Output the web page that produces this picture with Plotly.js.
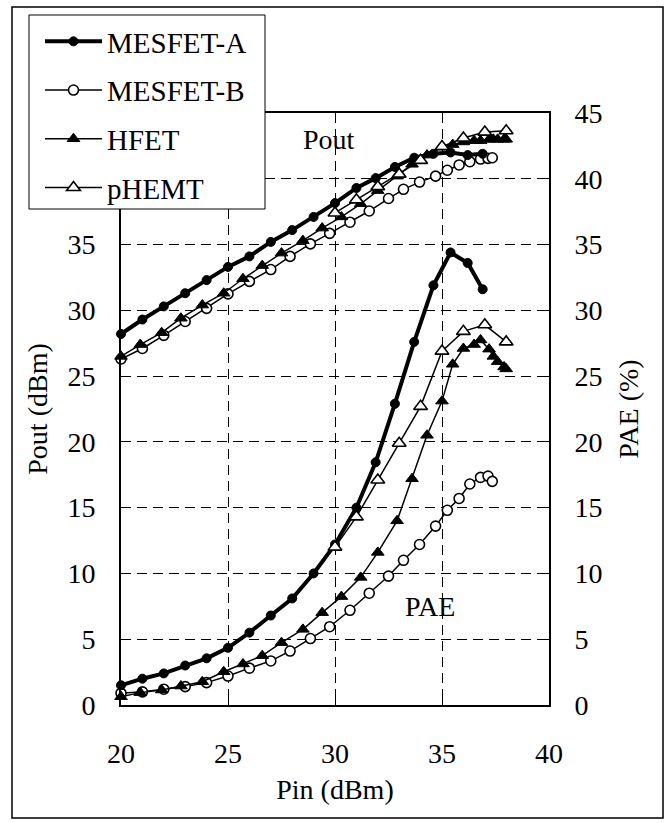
<!DOCTYPE html>
<html>
<head>
<meta charset="utf-8">
<script src="https://cdn.plot.ly/plotly-3.0.1.min.js"></script>
<style>
  html, body { margin: 0; padding: 0; background: #fff; }
  #chart { width: 668px; height: 823px; }
</style>
</head>
<body>
<div id="chart"></div>
<script>
// Input power sweep (dBm) and measured Pout (dBm) / PAE (%) per device
const mesfetA_pin  = [20, 21, 22, 23, 24, 25, 26, 27, 28, 29, 30, 31, 31.9, 32.8, 33.7, 34.6, 35.4, 36.2, 36.9];
const mesfetA_pout = [28.2, 29.3, 30.3, 31.3, 32.3, 33.3, 34.1, 35.2, 36.1, 37.1, 38.15, 39.3, 40.05, 40.9, 41.6, 41.9, 42.0, 41.8, 41.9];
const mesfetA_pae  = [1.5, 2.0, 2.4, 3.0, 3.55, 4.35, 5.5, 6.8, 8.1, 10.0, 12.2, 15.0, 18.45, 22.9, 27.6, 31.9, 34.4, 33.6, 31.6];

const mesfetB_pin  = [20, 21, 22, 23, 24, 25, 26, 27, 27.9, 28.85, 29.75, 30.7, 31.6, 32.5, 33.2, 33.95, 34.7, 35.25, 35.8, 36.3, 36.8, 37.15, 37.35];
const mesfetB_pout = [26.3, 27.1, 28.1, 29.15, 30.15, 31.25, 32.2, 33.1, 34.1, 35.05, 35.85, 36.7, 37.55, 38.5, 39.2, 39.75, 40.2, 40.65, 41.05, 41.3, 41.5, 41.55, 41.6];
const mesfetB_pae  = [0.9, 1.0, 1.2, 1.4, 1.7, 2.2, 2.8, 3.35, 4.1, 5.05, 5.95, 7.2, 8.5, 9.8, 11.0, 12.2, 13.6, 14.8, 15.7, 16.8, 17.3, 17.4, 17.0];

const hfet_pin  = [20, 20.9, 21.9, 22.8, 23.8, 24.8, 25.7, 26.6, 27.5, 28.5, 29.4, 30.3, 31.2, 32.0, 32.9, 33.6, 34.3, 35.0, 35.5, 36.0, 36.5, 36.8, 37.2, 37.4, 37.6, 37.9, 38.0];
const hfet_pout = [26.5, 27.4, 28.3, 29.4, 30.4, 31.3, 32.4, 33.4, 34.35, 35.3, 36.25, 37.1, 38.1, 39.1, 40.2, 41.1, 41.8, 42.4, 42.6, 42.8, 42.9, 42.9, 43.0, 43.0, 43.0, 43.0, 43.0];
const hfet_pae  = [0.63, 0.94, 1.14, 1.44, 1.77, 2.53, 3.12, 3.75, 4.74, 5.75, 7.02, 8.24, 9.7, 11.6, 14.0, 17.2, 20.5, 23.1, 25.9, 27.1, 27.4, 27.75, 27.05, 26.5, 26.1, 25.7, 25.55];

const phemt_pin  = [30, 31, 32, 33, 34, 35, 36, 37, 38];
const phemt_pout = [37.4, 38.4, 39.4, 40.35, 41.4, 42.45, 43.1, 43.55, 43.65];
const phemt_pae  = [12.0, 14.3, 17.1, 19.9, 22.7, 26.9, 28.4, 28.9, 27.6];

const xTicks = [20, 25, 30, 35, 40];
const yTicks = [0, 5, 10, 15, 20, 25, 30, 35, 40, 45];

const FONT = '"Liberation Serif", "Times New Roman", Tinos, serif';

// Visual style per device
const styles = {
  'MESFET-A': { line: { color: '#000', width: 4 },   marker: { symbol: 'circle', size: 9, color: '#000', line: { color: '#000', width: 1 } }, rank: 1 },
  'MESFET-B': { line: { color: '#000', width: 1.5 }, marker: { symbol: 'circle', size: 10, color: '#fff', line: { color: '#000', width: 1.6 } }, rank: 2 },
  'HFET':     { line: { color: '#000', width: 1.5 }, marker: { symbol: 'triangle-up', size: 11, color: '#000', line: { color: '#000', width: 1 } }, rank: 3 },
  'pHEMT':    { line: { color: '#000', width: 1.5 }, marker: { symbol: 'triangle-up', size: 12, color: '#fff', line: { color: '#000', width: 1.6 } }, rank: 4 }
};

const devices = [
  { name: 'MESFET-B', pin: mesfetB_pin, pout: mesfetB_pout, pae: mesfetB_pae },
  { name: 'HFET',     pin: hfet_pin,    pout: hfet_pout,    pae: hfet_pae },
  { name: 'MESFET-A', pin: mesfetA_pin, pout: mesfetA_pout, pae: mesfetA_pae },
  { name: 'pHEMT',    pin: phemt_pin,   pout: phemt_pout,   pae: phemt_pae }
];

const traces = [];
devices.forEach(d => {
  const s = styles[d.name];
  traces.push({
    x: d.pin, y: d.pout, name: d.name, type: 'scatter', mode: 'lines+markers',
    line: s.line, marker: s.marker, legendgroup: d.name, legendrank: s.rank,
    cliponaxis: false, xaxis: 'x', yaxis: 'y'
  });
  traces.push({
    x: d.pin, y: d.pae, name: d.name, type: 'scatter', mode: 'lines+markers',
    line: s.line, marker: s.marker, legendgroup: d.name, legendrank: s.rank, showlegend: false,
    cliponaxis: false, xaxis: 'x', yaxis: 'y2'
  });
});

const W = 668, H = 823;
const L = 121, R = 119, T = 113, B = 118;
const pw = W - L - R, ph = H - T - B;
const px = v => (v - L) / pw;
const py = v => (H - B - v) / ph;

const axisCommon = {
  showline: true, linecolor: '#000', linewidth: 2,
  ticks: 'inside', ticklen: 8, tickwidth: 1, tickcolor: '#000',
  tickfont: { family: FONT, size: 28, color: '#000' },
  zeroline: false
};

const layout = {
  width: W, height: H,
  margin: { l: L, r: R, t: T, b: B, pad: 0 },
  paper_bgcolor: '#fff', plot_bgcolor: '#fff',
  font: { family: FONT, size: 28, color: '#000' },
  showlegend: true,
  legend: {
    x: px(40), y: py(16), xanchor: 'left', yanchor: 'top',
    bgcolor: 'rgba(0,0,0,0)', borderwidth: 0,
    font: { family: FONT, size: 29, color: '#000' },
    itemwidth: 57, tracegroupgap: 8, traceorder: 'grouped'
  },
  xaxis: Object.assign({}, axisCommon, {
    range: [20, 40], tickvals: xTicks, mirror: true,
    showgrid: true, gridcolor: '#000', gridwidth: 1, griddash: '10px,6px',
    ticklabelstandoff: 22,
    title: { text: 'Pin (dBm)', font: { family: FONT, size: 28 }, standoff: 12 }
  }),
  yaxis: Object.assign({}, axisCommon, {
    range: [0, 45], tickvals: yTicks,
    showgrid: true, gridcolor: '#000', gridwidth: 1, griddash: '10px,6px',
    ticklabelstandoff: 18,
    title: { text: 'Pout (dBm)', font: { family: FONT, size: 28 }, standoff: 12 }
  }),
  yaxis2: Object.assign({}, axisCommon, {
    range: [0, 45], tickvals: yTicks, overlaying: 'y', side: 'right',
    showgrid: false, ticklabelstandoff: 18,
    title: { text: 'PAE (%)', font: { family: FONT, size: 28 }, standoff: 17 }
  }),
  annotations: [
    { x: 29.7, y: 43.0, xref: 'x', yref: 'y', text: 'Pout', showarrow: false,
      font: { family: FONT, size: 28, color: '#000' } },
    { x: 34.45, y: 7.5, xref: 'x', yref: 'y', text: 'PAE', showarrow: false,
      font: { family: FONT, size: 28, color: '#000' } }
  ],
  shapes: [
    // outer frame
    { type: 'rect', xref: 'paper', yref: 'paper',
      x0: px(12), x1: px(663), y0: py(818), y1: py(7),
      line: { color: '#000', width: 1.5 }, fillcolor: 'rgba(0,0,0,0)', layer: 'below' },
    // legend box, sits over the plot frame
    { type: 'rect', xref: 'paper', yref: 'paper',
      x0: px(29), x1: px(265), y0: py(209), y1: py(15),
      line: { color: '#000', width: 1 }, fillcolor: '#fff', layer: 'above' }
  ]
};

Plotly.newPlot('chart', traces, layout, { displayModeBar: false, staticPlot: true });
</script>
</body>
</html>
